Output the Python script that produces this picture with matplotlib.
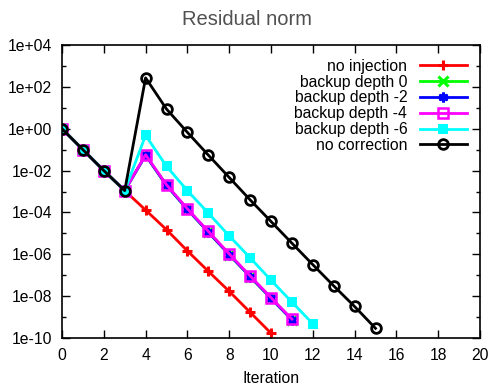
import numpy as np
import matplotlib
matplotlib.use("Agg")
import matplotlib.pyplot as plt
from matplotlib.ticker import FixedLocator, FuncFormatter

plt.rcParams['font.family'] = ['Liberation Sans', 'DejaVu Sans']

# datos
it_base = [0, 1, 2, 3]
res_base = [1.0, 1.0e-1, 1.0e-2, 1.1e-3]

it_noinj = list(range(0, 11))
res_noinj = res_base + [1.3e-4, 1.5e-5, 1.45e-6, 1.55e-7, 1.7e-8, 1.7e-9, 1.7e-10]

it_backup = list(range(0, 12))
res_backup4 = res_base + [5.7e-2, 2.1e-3, 1.5e-4, 1.25e-5, 1.05e-6, 9.3e-8, 8.5e-9, 8.0e-10]
res_backup2 = res_base + [5.4e-2, 1.95e-3, 1.4e-4, 1.15e-5, 0.97e-6, 8.6e-8, 7.9e-9, 7.4e-10]
res_backup0 = res_backup2

it_backup6 = list(range(0, 13))
res_backup6 = res_base + [4.8e-1, 1.6e-2, 1.1e-3, 9.3e-5, 7.6e-6, 6.8e-7, 5.8e-8, 5.2e-9, 4.8e-10]

it_nocorr = list(range(0, 16))
res_nocorr = res_base + [2.7e2, 8.7e0, 6.7e-1, 5.5e-2, 4.7e-3, 4.0e-4, 3.7e-5, 3.4e-6,
                         3.2e-7, 3.1e-8, 3.2e-9, 2.9e-10]

labels = ["no injection", "backup depth 0", "backup depth -2",
          "backup depth -4", "backup depth -6", "no correction"]

fig = plt.figure(figsize=(4.93, 3.86), dpi=100)
ax = fig.add_axes([62 / 493, 1 - 338 / 386, (480 - 62) / 493, (338 - 45) / 386])

lw = 2.0
ax.plot(it_noinj, res_noinj, color='red', lw=lw, marker='+', ms=7.5, mew=2.2, label=labels[0])
ax.plot(it_backup, res_backup0, color='#00ff00', lw=lw, marker='x', ms=6.5, mew=2.2, label=labels[1])
ax.plot(it_backup, res_backup2, color='blue', lw=lw, marker=(6, 2, 0), ms=7, mew=2.2, label=labels[2])
ax.plot(it_backup, res_backup4, color='magenta', lw=lw, marker='s', ms=7, mew=1.8,
        mfc='none', label=labels[3])
ax.plot(it_backup6, res_backup6, color='cyan', lw=lw, marker='s', ms=7, mew=0, label=labels[4])
ax.plot(it_nocorr, res_nocorr, color='black', lw=lw, marker='o', ms=7, mew=2,
        mfc='none', label=labels[5])

ax.set_yscale('log')
ax.set_xlim(0, 20)
ax.set_ylim(1e-10, 1e4)
ax.xaxis.set_major_locator(FixedLocator(np.arange(0, 21, 2)))
ax.yaxis.set_major_locator(FixedLocator([10.0 ** k for k in range(-10, 5, 2)]))
ax.yaxis.set_minor_locator(FixedLocator([10.0 ** k for k in range(-9, 4, 2)]))
ax.yaxis.set_major_formatter(FuncFormatter(lambda v, p: '%.0e' % v))
ax.yaxis.set_minor_formatter(FuncFormatter(lambda v, p: ''))

ax.tick_params(which='both', direction='in', top=True, right=True, labelsize=11.3, pad=7)
ax.tick_params(which='major', length=6, width=1)
ax.tick_params(which='minor', length=3, width=1)
for s in ax.spines.values():
    s.set_linewidth(1.2)

ax.set_xlabel("Iteration", fontsize=11.3, labelpad=6)
fig.suptitle("Residual norm", fontsize=14.5, color='#505050', y=0.975)

leg = ax.legend(loc='upper right', frameon=False, fontsize=11.3, markerfirst=False,
                handlelength=3.0, labelspacing=0.05, borderaxespad=0.3,
                bbox_to_anchor=(0.995, 0.99), handletextpad=0.8)

fig.savefig("out.png", dpi=100)
